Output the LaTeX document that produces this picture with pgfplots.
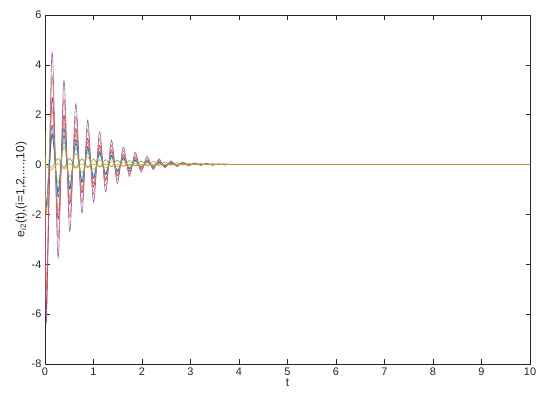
\documentclass[border=0pt]{standalone}
\usepackage{pgfplots}
\usepackage{pgfplotstable}
\pgfplotsset{compat=1.18}
\usepackage{fontspec}
\setmainfont{Liberation Sans}
\definecolor{mc1}{rgb}{0,0.447,0.741}
\definecolor{mc2}{rgb}{0.85,0.325,0.098}
\definecolor{mc3}{rgb}{0.929,0.694,0.125}
\definecolor{mc4}{rgb}{0.494,0.184,0.556}
\definecolor{mc5}{rgb}{0.466,0.674,0.188}
\definecolor{mc6}{rgb}{0.301,0.745,0.933}
\definecolor{mc7}{rgb}{0.635,0.078,0.184}
\definecolor{axc}{rgb}{0.15,0.15,0.15}
\pgfplotstableread{
t a b c d e f g h i j
0 0 0 1.3 0 0 0 0 0 0 0
0.03 -1.8 -5.0 -1.9 -6.3 0 -1.6 -5.8 -1.7 -2.0 -0.1
0.145 1.58 3.56 1.15 4.50 -0.10 1.26 2.66 1.20 2.25 -0.20
0.27 -1.31 -2.95 -0.75 -3.73 0.25 -1.04 -2.20 -1.10 -1.87 0.05
0.39 1.18 2.66 0.70 3.37 -0.12 0.94 1.99 1.45 1.69 -0.18
0.51 -0.94 -2.12 -0.50 -2.68 0.25 -0.75 -1.58 -1.00 -1.34 0.04
0.635 0.85 1.93 0.45 2.44 -0.12 0.68 1.44 1.00 1.22 -0.15
0.76 -0.68 -1.53 -0.33 -1.94 0.24 -0.54 -1.14 -0.72 -0.97 0.03
0.88 0.62 1.41 0.30 1.78 -0.10 0.50 1.05 0.72 0.89 -0.12
1.0 -0.53 -1.19 -0.22 -1.50 0.22 -0.42 -0.89 -0.55 -0.75 0.02
1.125 0.46 1.03 0.20 1.31 -0.09 0.37 0.77 0.52 0.66 -0.10
1.25 -0.38 -0.86 -0.14 -1.09 0.20 -0.31 -0.64 -0.40 -0.55 0.02
1.37 0.34 0.77 0.13 0.98 -0.08 0.27 0.58 0.38 0.49 -0.08
1.49 -0.27 -0.60 -0.09 -0.76 0.18 -0.21 -0.45 -0.28 -0.38 0.01
1.615 0.25 0.55 0.08 0.70 -0.07 0.20 0.41 0.28 0.35 -0.06
1.74 -0.16 -0.37 -0.05 -0.47 0.16 -0.13 -0.28 -0.18 -0.24 0.01
1.86 0.17 0.39 0.05 0.49 -0.05 0.14 0.29 0.19 0.25 -0.05
1.98 -0.11 -0.24 -0.03 -0.30 0.14 -0.08 -0.18 -0.12 -0.15 0
2.105 0.12 0.26 0.03 0.33 -0.04 0.09 0.19 0.13 0.17 -0.04
2.23 -0.07 -0.16 -0.02 -0.20 0.12 -0.06 -0.12 -0.08 -0.10 0
2.35 0.08 0.18 0.02 0.23 -0.03 0.06 0.14 0.09 0.12 -0.03
2.47 -0.05 -0.10 -0.01 -0.13 0.10 -0.04 -0.08 -0.05 -0.07 0
2.595 0.05 0.12 0.01 0.15 -0.02 0.04 0.09 0.06 0.08 -0.02
2.72 -0.03 -0.06 -0.01 -0.08 0.08 -0.02 -0.05 -0.03 -0.04 0
2.84 0.04 0.08 0.01 0.10 -0.02 0.03 0.06 0.04 0.05 -0.01
2.96 -0.02 -0.04 0 -0.05 0.06 -0.01 -0.03 -0.02 -0.03 0
3.085 0.02 0.06 0 0.07 -0.01 0.02 0.04 0.03 0.04 0
3.21 -0.01 -0.02 0 -0.03 0.05 -0.01 -0.02 -0.01 -0.02 0
3.33 0.02 0.04 0 0.05 -0.01 0.01 0.03 0.02 0.03 0
3.45 -0.01 -0.02 0 -0.02 0.04 0 -0.01 -0.01 -0.01 0
3.575 0.01 0.02 0 0.03 0 0.01 0.02 0.01 0.02 0
3.70 0 -0.01 0 -0.01 0.03 0 -0.01 0 -0.01 0
3.82 0.01 0.02 0 0.02 0 0 0.01 0.01 0.01 0
4.0 0 0 0 0 0 0 0 0 0 0
10 0 0 0 0 0 0 0 0 0 0
}\datatab
\begin{document}
\begin{tikzpicture}
\useasboundingbox (-45bp,-43bp) rectangle (505bp,364bp);
\begin{axis}[
  at={(0,0)}, anchor=south west,
  scale only axis, width=485bp, height=349bp,
  xmin=0, xmax=10, ymin=-8, ymax=6,
  xtick={0,1,...,10}, ytick={-8,-6,...,6},
  tick align=inside, tick pos=both,
  major tick length=4.5bp,
  axis line style={axc, line width=0.5pt},
  every tick/.style={axc, line width=0.5pt},
  tick label style={font=\fontsize{11}{13}\selectfont, text=axc},
  /pgf/number format/assume math mode=true,
  xlabel={t}, ylabel={e$_{\mathrm{i2}}$(t),(i=1,2,....,10)},
  label style={font=\fontsize{12}{14}\selectfont, text=axc},
  xlabel style={yshift=3bp},
  ylabel style={yshift=-2bp},
  every axis plot/.append style={line width=0.6pt, smooth, tension=0.5},
  clip=true,
]
\addplot[mc1] table[x=t,y=a]{\datatab};
\addplot[mc2!70!white] table[x=t,y=b]{\datatab};
\addplot[mc3] table[x=t,y=c]{\datatab};
\addplot[mc4!75!white] table[x=t,y=d]{\datatab};
\addplot[mc5] table[x=t,y=e]{\datatab};
\addplot[mc6] table[x=t,y=f]{\datatab};
\addplot[mc7!80!white] table[x=t,y=g]{\datatab};
\addplot[mc1] table[x=t,y=h]{\datatab};
\addplot[mc2!70!white] table[x=t,y=i]{\datatab};
\addplot[mc3!90!black] table[x=t,y=j]{\datatab};
\end{axis}
\end{tikzpicture}
\end{document}
